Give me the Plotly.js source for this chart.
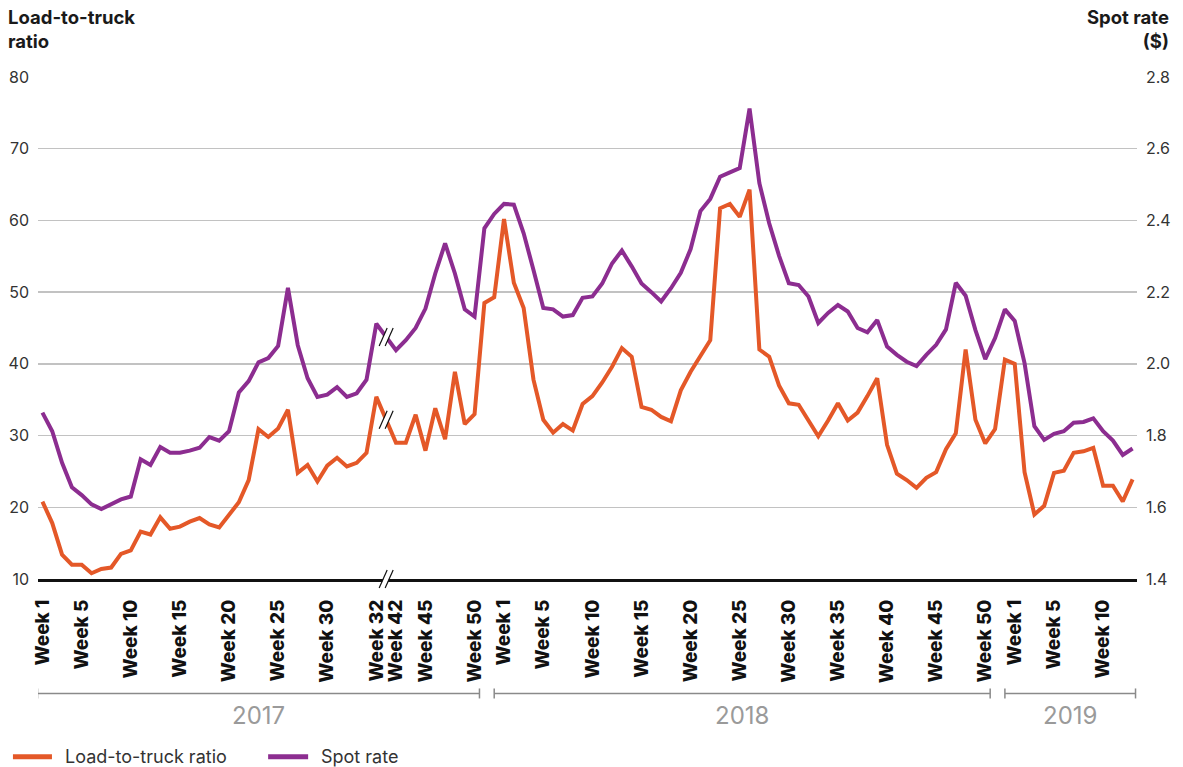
<!DOCTYPE html>
<html>
<head>
<meta charset="utf-8">
<script src="https://cdn.plot.ly/plotly-3.0.1.min.js"></script>
<style>
  html, body { margin: 0; padding: 0; background: #fff; }
  #chart { width: 1183px; height: 767px; }
</style>
</head>
<body>
<div id="chart"></div>
<script>
// ---------- DATA ----------
// Load-to-truck ratio, left axis
const ratio2017a = [20.8, 17.8, 13.4, 12.0, 12.0, 10.8, 11.4, 11.6, 13.5, 14.0,
                    16.6, 16.2, 18.6, 17.0, 17.3, 18.0, 18.5, 17.6, 17.2, 19.0,
                    20.7, 23.8, 30.9, 29.8, 31.0, 33.6, 24.8, 25.9, 23.6, 25.8,
                    26.9, 25.7, 26.2, 27.6, 35.4];
const ratio2017b = [29.0, 29.0, 32.9, 27.9, 33.8, 29.5, 38.9, 31.6, 33.0, 48.5, 49.3];
const ratio2018  = [60.2, 51.3, 47.8, 37.8, 32.2, 30.4, 31.6, 30.7, 34.4, 35.5,
                    37.4, 39.6, 42.2, 41.0, 34.0, 33.6, 32.6, 32.0, 36.3, 38.9,
                    41.1, 43.3, 61.7, 62.3, 60.5, 64.3, 42.0, 41.0, 37.0, 34.5,
                    34.3, 32.2, 29.9, 32.1, 34.5, 32.1, 33.2, 35.5, 38.0, 28.7,
                    24.7, 23.8, 22.7, 24.1, 24.9, 28.1, 30.3, 42.0, 32.2, 28.9,
                    30.9, 40.6];
const ratio2019  = [40.0, 24.9, 19.0, 20.2, 24.8, 25.1, 27.6, 27.8, 28.3, 23.0, 23.0, 20.8, 23.9];

// Spot rate ($), right axis
const spot2017a = [1.864, 1.812, 1.724, 1.656, 1.634, 1.608, 1.595, 1.610, 1.622, 1.630,
                   1.734, 1.718, 1.768, 1.752, 1.752, 1.758, 1.766, 1.796, 1.786, 1.812,
                   1.920, 1.952, 2.004, 2.016, 2.050, 2.212, 2.052, 1.960, 1.908, 1.914,
                   1.935, 1.908, 1.918, 1.956, 2.112];
const spot2017b = [2.038, 2.066, 2.100, 2.154, 2.252, 2.336, 2.252, 2.152, 2.132, 2.378, 2.418];
const spot2018  = [2.446, 2.444, 2.364, 2.262, 2.156, 2.152, 2.132, 2.136, 2.184, 2.188,
                   2.224, 2.280, 2.316, 2.272, 2.224, 2.200, 2.174, 2.211, 2.254, 2.320,
                   2.426, 2.460, 2.522, 2.534, 2.546, 2.712, 2.504, 2.392, 2.302, 2.225,
                   2.220, 2.188, 2.114, 2.142, 2.164, 2.146, 2.100, 2.088, 2.122, 2.048,
                   2.025, 2.006, 1.994, 2.025, 2.053, 2.096, 2.226, 2.190, 2.094, 2.013,
                   2.072, 2.152];
const spot2019  = [2.120, 2.002, 1.826, 1.788, 1.805, 1.812, 1.836, 1.838, 1.848, 1.812, 1.786, 1.746, 1.764];

// Tick labels per segment, and the position of each label inside its segment
const ticks2017a = ["Week 1", "Week 5", "Week 10", "Week 15", "Week 20", "Week 25", "Week 30", "Week 32"];
const tickAt2017a = [0, 4, 9, 14, 19, 24, 29, 34];
const ticks2017b = ["Week 42", "Week 45", "Week 50"];
const tickAt2017b = [0, 3, 8];
const ticks2018 = ["Week 1", "Week 5", "Week 10", "Week 15", "Week 20", "Week 25", "Week 30",
                   "Week 35", "Week 40", "Week 45", "Week 50"];
const tickAt2018 = [0, 4, 9, 14, 19, 24, 29, 34, 39, 44, 49];
const ticks2019 = ["Week 1", "Week 5", "Week 10"];
const tickAt2019 = [0, 4, 9];

const years = ["2017", "2018", "2019"];
const seriesNames = ["Load-to-truck ratio", "Spot rate"];

// ---------- BUILD ----------
const ORANGE = "#E45828";
const PURPLE = "#8C2D90";
const FONT = "Inter, Roboto, sans-serif";

const segs = [
  {r: ratio2017a, s: spot2017a, t: ticks2017a, ta: tickAt2017a, gapAfter: 1},
  {r: ratio2017b, s: spot2017b, t: ticks2017b, ta: tickAt2017b, gapAfter: 0},
  {r: ratio2018,  s: spot2018,  t: ticks2018,  ta: tickAt2018,  gapAfter: 0},
  {r: ratio2019,  s: spot2019,  t: ticks2019,  ta: tickAt2019,  gapAfter: 0}
];
let xs = [], rs = [], ss = [], tv = [], tt = [], starts = [];
let pos = 0;
let breakX = null;
segs.forEach((sg) => {
  starts.push(pos);
  sg.r.forEach((v, i) => { xs.push(pos + i); rs.push(v); ss.push(sg.s[i]); });
  sg.ta.forEach((p, i) => { tv.push(pos + p); tt.push(sg.t[i]); });
  pos += sg.r.length;
  if (sg.gapAfter) { breakX = pos; pos += sg.gapAfter; }
});
const lastX = xs[xs.length - 1];

const traces = [
  {x: xs, y: rs, name: seriesNames[0], type: "scatter", mode: "lines",
   line: {color: ORANGE, width: 4}, yaxis: "y", hoverinfo: "skip", showlegend: false},
  {x: xs, y: ss, name: seriesNames[1], type: "scatter", mode: "lines",
   line: {color: PURPLE, width: 4}, yaxis: "y2", hoverinfo: "skip", showlegend: false}
];

// break marks "//"
const nA = ratio2017a.length;
const ratioBreakY = (ratio2017a[nA - 1] + ratio2017b[0]) / 2;
const spotBreakY = (spot2017a[nA - 1] + spot2017b[0]) / 2;
function breakMarks(yref, yanchor) {
  const base = {type: "line", xref: "x", yref: yref, xsizemode: "pixel", ysizemode: "pixel",
                xanchor: breakX, yanchor: yanchor, layer: "above"};
  return [
    Object.assign({}, base, {x0: -4, y0: -9, x1: 4, y1: 9, line: {color: "#ffffff", width: 5}}),
    Object.assign({}, base, {x0: -7, y0: -9, x1: 1, y1: 9, line: {color: "#111111", width: 1.2}}),
    Object.assign({}, base, {x0: -1, y0: -9, x1: 7, y1: 9, line: {color: "#111111", width: 1.2}})
  ];
}
let shapes = [].concat(breakMarks("y2", spotBreakY), breakMarks("y", ratioBreakY), breakMarks("paper", 0));

// year brackets
const bracketY = -0.228;
const yearSpans = [
  [starts[0] - 0.5, starts[2] - 2.5],
  [starts[2] - 1.0, starts[3] - 2.5],
  [starts[3] - 1.0, lastX + 0.3]
];
let annotations = [];
yearSpans.forEach((sp, k) => {
  shapes.push({type: "line", xref: "x", yref: "paper", x0: sp[0], x1: sp[1], y0: bracketY, y1: bracketY,
               line: {color: "#8a8a8a", width: 1.5}});
  [sp[0], sp[1]].forEach(xx => {
    shapes.push({type: "line", xref: "x", yref: "paper", ysizemode: "pixel", yanchor: bracketY,
                 x0: xx, x1: xx, y0: -5, y1: 5, line: {color: "#8a8a8a", width: 1.5}});
  });
  annotations.push({xref: "x", yref: "paper", x: (sp[0] + sp[1]) / 2, y: bracketY, yshift: -22,
                    text: years[k], showarrow: false, xanchor: "center", yanchor: "middle",
                    font: {family: FONT, size: 24, color: "#9a9a9a"}});
});

// legend (drawn by hand so it does not push the plot margins)
const legendY = -0.354;
const legendItems = [
  {name: seriesNames[0], color: ORANGE, x0: -0.0228, x1: 0.0127, tx: 0.0228},
  {name: seriesNames[1], color: PURPLE, x0: 0.2094, x1: 0.2458, tx: 0.2558}
];
legendItems.forEach(it => {
  shapes.push({type: "line", xref: "paper", yref: "paper", x0: it.x0, x1: it.x1, y0: legendY, y1: legendY,
               line: {color: it.color, width: 5}});
  annotations.push({xref: "paper", yref: "paper", x: it.tx, y: legendY, xanchor: "left", yanchor: "middle",
                    showarrow: false, text: it.name, font: {family: FONT, size: 18, color: "#333333"}});
});

// axis titles
annotations.push({xref: "paper", yref: "paper", x: -0.029, y: 1.145, xanchor: "left", yanchor: "top",
                  align: "left", showarrow: false, text: "<b>Load-to-truck</b><br><b>ratio</b>",
                  font: {family: FONT, size: 18.5, color: "#1a1a1a", weight: 800}});
annotations.push({xref: "paper", yref: "paper", x: 1.0305, y: 1.145, xanchor: "right", yanchor: "top",
                  align: "right", showarrow: false, text: "<b>Spot rate</b><br><b>($)</b>",
                  font: {family: FONT, size: 18.5, color: "#1a1a1a", weight: 800}});

const layout = {
  width: 1183, height: 767,
  margin: {l: 38, r: 46, t: 77, b: 188, pad: 0},
  paper_bgcolor: "#ffffff", plot_bgcolor: "#ffffff",
  font: {family: FONT, color: "#333333"},
  showlegend: false,
  xaxis: {type: "linear", range: [-0.45, lastX + 0.45], tickmode: "array", tickvals: tv, ticktext: tt,
          tickangle: -90, showgrid: false, zeroline: false, showline: true, linecolor: "#111111",
          linewidth: 3, ticks: "", ticklabelstandoff: 10, automargin: false,
          tickfont: {family: FONT, size: 19, color: "#111111", weight: 800}},
  yaxis: {range: [10, 80], dtick: 10, tick0: 10, showgrid: true, gridcolor: "#c2c2c2", gridwidth: 1.5,
          zeroline: false, showline: false, ticks: "", ticklabelstandoff: 8, automargin: false,
          tickfont: {size: 16, color: "#333333"}},
  yaxis2: {range: [1.4, 2.8], dtick: 0.2, tick0: 1.4, tickformat: ".1f", overlaying: "y", side: "right",
           showgrid: false, zeroline: false, showline: false, ticks: "", ticklabelstandoff: 8,
           automargin: false, tickfont: {size: 16, color: "#333333"}},
  shapes: shapes,
  annotations: annotations
};

Plotly.newPlot("chart", traces, layout, {staticPlot: true, displayModeBar: false});
</script>
</body>
</html>
